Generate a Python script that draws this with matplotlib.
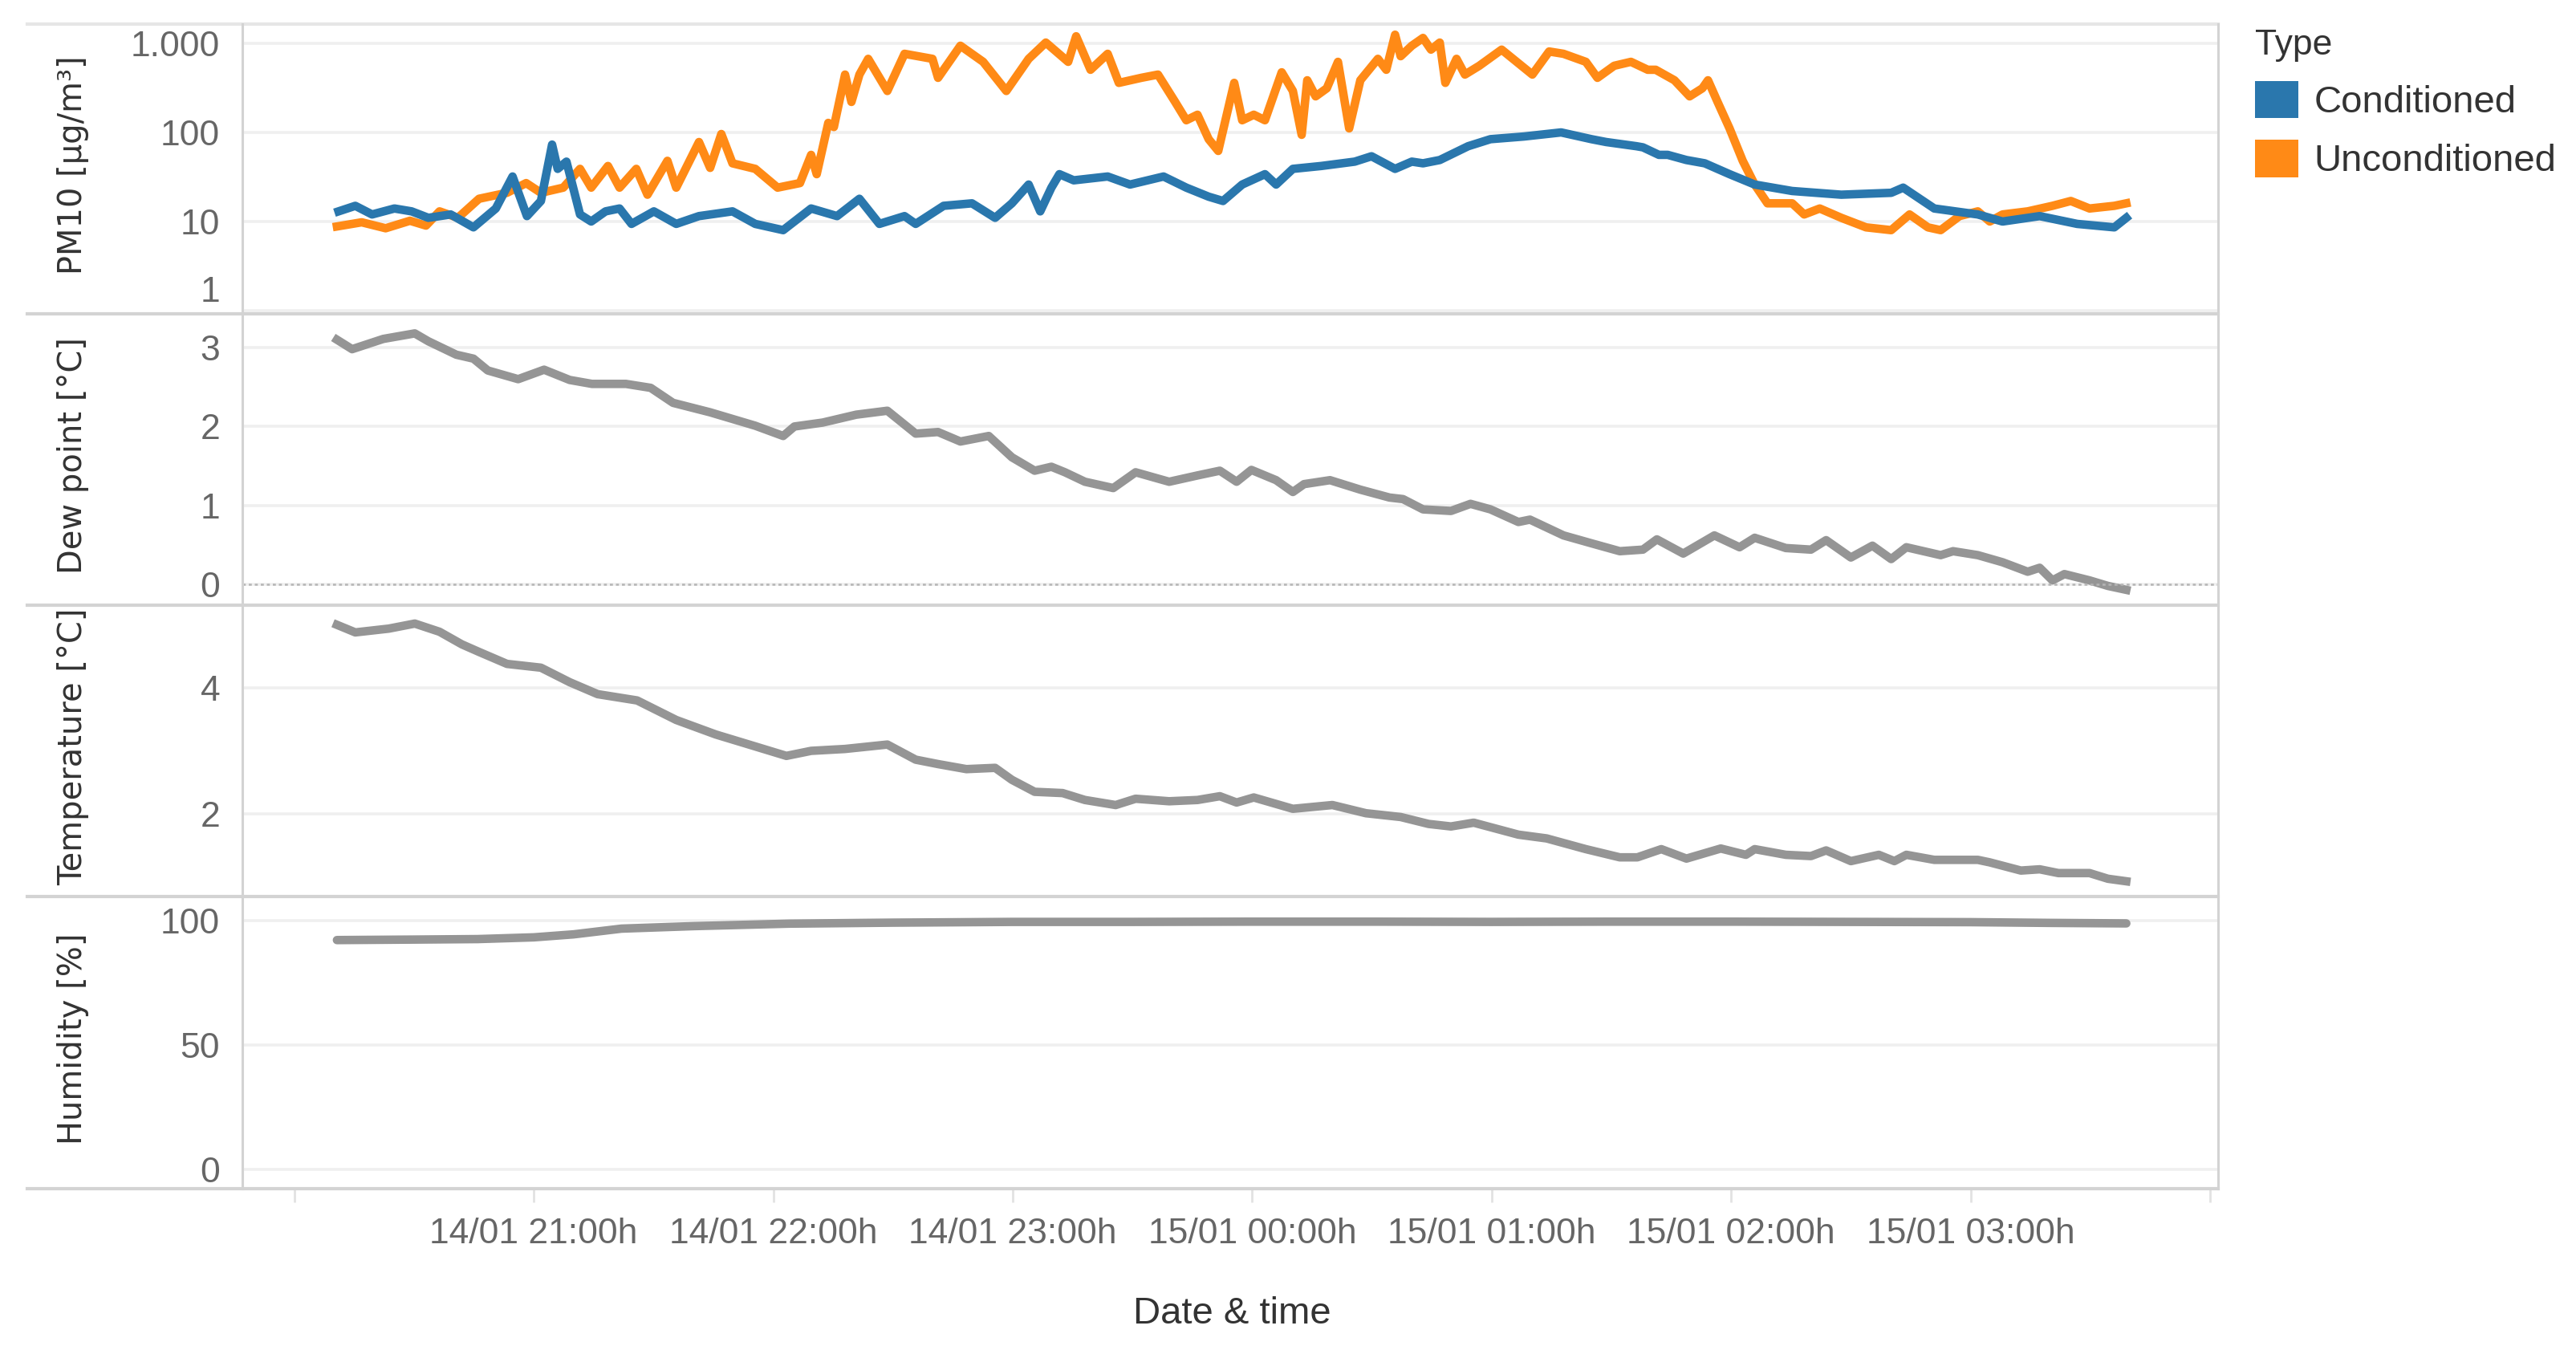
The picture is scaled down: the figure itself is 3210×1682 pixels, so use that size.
import matplotlib
matplotlib.use("Agg")
import matplotlib.pyplot as plt
from matplotlib.patches import Patch
from matplotlib.lines import Line2D
import pandas as pd

plt.rcParams["font.family"] = ["Liberation Sans", "DejaVu Sans"]

# ---------------- data (minutes after 14/01 20:00h) ----------------
unc_min = [10.7, 16.9, 22.9, 29.0, 33.0, 36.4, 41.0, 46.3, 53.3, 58.1, 61.8, 67.4, 71.6, 74.4, 78.6,
           81.5, 85.7, 88.5, 93.5, 95.7, 101.4, 104.2, 107.0, 109.8, 115.5, 121.1, 126.7, 129.5,
           130.9, 133.8, 135.2, 138.0, 139.6, 141.6, 143.8, 148.6, 152.9, 159.9, 161.3, 166.9,
           172.6, 178.4, 184.0, 188.3, 193.9, 195.9, 199.5, 203.8, 206.6, 212.2, 216.4, 220.7,
           223.5, 226.3, 229.1, 231.5, 235.5, 237.5, 240.4, 243.2, 247.4, 250.2, 252.4, 253.8,
           255.9, 258.7, 261.5, 264.3, 267.1, 271.5, 273.6, 275.8, 277.2, 280.0, 282.8, 284.8,
           287.0, 288.4, 291.2, 293.3, 296.9, 302.5, 310.2, 314.4, 318.0, 323.6, 326.5, 330.7,
           334.9, 339.1, 341.1, 345.8, 349.6, 352.8, 354.2, 356.6, 359.6, 362.9, 365.9, 369.1,
           375.3, 378.3, 382.2, 387.6, 393.8, 400.1, 404.7, 409.3, 412.5, 417.2, 421.8, 424.8,
           428.0, 434.3, 440.5, 445.1, 449.8, 456.0, 459.0]
unc_val = [8.8, 9.8, 8.4, 10.2, 9.0, 13, 11, 18, 21, 27, 21, 24, 39, 24, 42,
           24, 39, 20, 48, 24, 78, 40, 96, 45, 39, 24, 27, 56,
           34, 128, 115, 446, 220, 446, 670, 292, 763, 670, 410, 940,
           620, 292, 670, 1020, 620, 1200, 505, 763, 360, 410, 446, 220,
           137, 158, 84, 62, 360, 137, 158, 137, 473, 292, 94, 385,
           254, 313, 620, 111, 385, 670, 505, 1250, 717, 940, 1150, 850,
           1020, 360, 670, 446, 560, 850, 446, 810, 763, 620, 410, 560,
           620, 505, 505, 385, 254, 313, 385, 220, 111, 48, 26, 16,
           16, 12, 14, 11, 8.6, 8, 12, 8.6, 8, 11.5, 13, 10,
           12, 13, 15, 17, 14, 15, 16]

con_min = [11.1, 15.3, 19.5, 25.1, 29.4, 33.6, 39.2, 44.9, 50.5, 54.7, 58.3, 61.8, 64.6, 66.0,
           68.2, 71.6, 74.4, 78.0, 81.5, 84.5, 90.1, 95.7, 101.4, 109.8, 115.5, 122.5, 129.5,
           136.0, 141.6, 146.6, 152.9, 155.7, 162.7, 169.8, 175.6, 179.8, 184.0, 186.9, 189.7,
           191.7, 195.3, 203.8, 209.4, 217.8, 223.5, 229.1, 232.7, 237.5, 243.2, 246.0, 250.2,
           257.3, 265.7, 269.9, 275.8, 280.0, 282.8, 287.0, 294.1, 299.7, 308.1, 317.4, 325.0,
           328.7, 336.3, 337.9, 341.9, 344.1, 348.8, 353.4, 359.6, 365.9, 375.3, 387.6, 400.1,
           403.1, 410.9, 421.8, 428.0, 437.3, 446.7, 456.0, 459.0]
con_val = [13, 15, 12, 14, 13, 11, 12, 8.6, 14, 32, 11.5, 17, 73, 39,
           47, 12, 10, 13, 14, 9.4, 13, 9.4, 11.5, 13, 9.4, 8, 14,
           11.5, 18, 9.4, 11.5, 9.4, 15, 16, 11, 16, 26, 13, 24,
           34, 29, 32, 26, 32, 24, 19, 17, 26, 34, 26, 39,
           42, 47, 54, 39, 47, 45, 49, 70, 84, 90, 100, 84,
           78, 70, 68, 56, 56, 49, 45, 34, 26, 22, 20, 21,
           24, 14, 12, 10, 11.5, 9.4, 8.6, 11]

dew_min = [10.7, 14.5, 22.3, 30.2, 33.6, 40.6, 44.9, 48.5, 56.1, 62.6, 69.0, 74.6, 83.1, 89.3,
           94.9, 104.2, 115.5, 122.5, 125.3, 132.4, 140.8, 148.6, 155.7, 161.3, 166.9, 174.0,
           179.8, 185.5, 189.7, 193.1, 198.1, 205.2, 210.8, 219.2, 226.3, 231.9, 236.1, 239.8,
           246.0, 250.2, 253.0, 259.5, 267.1, 274.4, 277.8, 282.8, 289.8, 294.7, 299.7, 306.7,
           309.6, 318.0, 325.0, 332.1, 337.9, 341.4, 348.0, 355.8, 362.1, 365.9, 373.7, 380.0,
           383.8, 390.0, 395.4, 400.1, 403.9, 412.5, 415.6, 421.8, 428.0, 434.3, 437.3, 440.5,
           443.5, 449.8, 454.4, 459.0]
dew_val = [3.10, 2.98, 3.11, 3.18, 3.08, 2.91, 2.86, 2.71, 2.60, 2.72, 2.59, 2.54, 2.54, 2.49,
           2.30, 2.18, 2.01, 1.88, 2.00, 2.05, 2.15, 2.20, 1.91, 1.93, 1.81, 1.88,
           1.61, 1.44, 1.49, 1.42, 1.30, 1.22, 1.42, 1.30, 1.38, 1.44, 1.30, 1.45,
           1.32, 1.17, 1.27, 1.32, 1.20, 1.10, 1.08, 0.95, 0.93, 1.02, 0.95, 0.79,
           0.82, 0.62, 0.52, 0.42, 0.44, 0.57, 0.39, 0.62, 0.47, 0.59, 0.46, 0.44,
           0.56, 0.34, 0.49, 0.32, 0.47, 0.37, 0.42, 0.37, 0.28, 0.16, 0.21, 0.05,
           0.13, 0.05, -0.02, -0.07]

temp_min = [10.7, 15.3, 23.7, 30.2, 36.4, 42.0, 46.3, 53.3, 61.8, 69.0, 76.0, 85.9, 95.7, 105.6,
            115.5, 123.3, 129.5, 138.0, 148.6, 155.7, 161.3, 168.4, 175.6, 179.8, 185.5, 192.5,
            198.1, 205.8, 210.8, 219.2, 226.3, 231.9, 236.1, 240.4, 250.2, 260.1, 268.5, 277.2,
            284.2, 289.8, 295.5, 306.7, 313.8, 323.6, 332.1, 336.5, 342.5, 348.8, 357.4, 363.7,
            365.9, 373.7, 380.0, 383.8, 390.0, 397.0, 400.9, 403.9, 410.9, 421.8, 424.8, 432.6,
            437.3, 442.0, 449.8, 454.4, 459.0]
temp_val = [5.00, 4.88, 4.94, 5.02, 4.89, 4.69, 4.57, 4.38, 4.32, 4.09, 3.90, 3.80, 3.49, 3.26,
            3.07, 2.92, 3.00, 3.03, 3.10, 2.86, 2.79, 2.71, 2.73, 2.54, 2.35, 2.33,
            2.22, 2.14, 2.24, 2.20, 2.22, 2.28, 2.18, 2.26, 2.08, 2.14, 2.01, 1.95,
            1.84, 1.80, 1.86, 1.67, 1.61, 1.44, 1.31, 1.31, 1.44, 1.29, 1.45, 1.35,
            1.44, 1.35, 1.33, 1.42, 1.25, 1.35, 1.25, 1.35, 1.27, 1.27, 1.23, 1.10,
            1.12, 1.06, 1.06, 0.97, 0.93]

hum_min = [10.7, 30, 46, 60, 70, 82, 100, 124, 150, 180, 210, 240, 270, 300, 330, 360, 390, 420, 440, 459.0]
hum_val = [92.2, 92.4, 92.6, 93.3, 94.5, 96.8, 97.8, 98.8, 99.2, 99.5, 99.5, 99.6, 99.6, 99.5,
           99.6, 99.6, 99.5, 99.4, 99.1, 98.9]

types = ["Conditioned", "Unconditioned"]
type_colors = ["#2a77ad", "#ff8a16"]

start = pd.Timestamp("2019-01-14 20:00")
tick_times = pd.date_range("2019-01-14 20:00", "2019-01-15 04:00", freq="h")
tick_labels = ["", "14/01 21:00h", "14/01 22:00h", "14/01 23:00h", "15/01 00:00h",
               "15/01 01:00h", "15/01 02:00h", "15/01 03:00h", ""]

pm_ticks = [1, 10, 100, 1000]
pm_labels = ["1", "10", "100", "1.000"]


def to_time(minutes):
    return start + pd.to_timedelta(minutes, unit="min")


# ---------------- figure layout (pixels of 3210 x 1682) ----------------
W, H = 3210, 1682
fig = plt.figure(figsize=(W / 200, H / 200), dpi=200)
plot_left, plot_right = 302, 2764
edges = [30, 391, 754, 1117, 1481]

grey_line = "#959595"
tick_col = "#666666"
title_col = "#333333"
grid_col = "#efefef"
sep_col = "#d3d3d3"

axes = []
for i in range(4):
    top, bot = edges[i], edges[i + 1]
    ax = fig.add_axes([plot_left / W, 1 - bot / H, (plot_right - plot_left) / W, (bot - top) / H])
    for s in ax.spines.values():
        s.set_visible(False)
    ax.tick_params(axis="y", length=0, pad=10, labelsize=16, labelcolor=tick_col)
    ax.grid(axis="y", color=grid_col, lw=1.3)
    ax.set_axisbelow(True)
    axes.append(ax)

x0 = to_time(-13.0)
x1 = to_time(482.0)

# PM10 panel
ax = axes[0]
ax.plot(to_time(unc_min), unc_val, color=type_colors[1], lw=3.8, solid_joinstyle="round")
ax.plot(to_time(con_min), con_val, color=type_colors[0], lw=3.8, solid_joinstyle="round")
ax.set_yscale("log")
ax.set_ylim(0.92, 1645)
ax.set_yticks(pm_ticks)
ax.set_yticklabels([""] + pm_labels[1:])
ax.yaxis.set_minor_locator(matplotlib.ticker.NullLocator())
# Tableau lifts the bottom label to keep it inside the pane
ax.annotate(pm_labels[0], xy=(0, pm_ticks[0]), xycoords=("axes fraction", "data"),
            xytext=(-10, 8), textcoords="offset points", ha="right", va="center",
            fontsize=16, color=tick_col)

# Dew point panel
ax = axes[1]
ax.plot(to_time(dew_min), dew_val, color=grey_line, lw=3.8, solid_joinstyle="round")
ax.set_ylim(-0.264, 3.428)
ax.set_yticks([0, 1, 2, 3])
ax.axhline(0, color="#b5b5b5", lw=0.9, ls=(0, (1.5, 1.5)))

# Temperature panel
ax = axes[2]
ax.plot(to_time(temp_min), temp_val, color=grey_line, lw=3.8, solid_joinstyle="round")
ax.set_ylim(0.688, 5.312)
ax.set_yticks([2, 4])

# Humidity panel
ax = axes[3]
ax.plot(to_time(hum_min), hum_val, color=grey_line, lw=3.8, solid_capstyle="round")
ax.set_ylim(-7.7, 109.7)
ax.set_yticks([0, 50, 100])

for i, ax in enumerate(axes):
    ax.set_xlim(x0, x1)
    ax.set_xticks(tick_times)
    if i < 3:
        ax.tick_params(axis="x", length=0, labelbottom=False)
    else:
        ax.set_xticklabels(tick_labels)
        ax.tick_params(axis="x", length=6, width=1, color="#e2e2e2", pad=7,
                       labelsize=16, labelcolor=tick_col)

# panel frame lines
for y in edges:
    col = "#e6e6e6" if y == edges[0] else sep_col
    fig.add_artist(Line2D([34 / W, plot_right / W], [1 - y / H, 1 - y / H], color=col, lw=1.5))
for x in (plot_left, plot_right):
    fig.add_artist(Line2D([x / W, x / W], [1 - edges[0] / H, 1 - edges[-1] / H], color=sep_col, lw=1.1))

# axis titles
y_titles = ["PM10 [µg/m³]", "Dew point [°C]", "Temperature [°C]", "Humidity [%]"]
for i, t in enumerate(y_titles):
    yc = (edges[i] + edges[i + 1]) / 2 - 5
    fig.text(91 / W, 1 - yc / H, t, rotation=90, ha="center", va="center",
             fontsize=14.4, color=title_col, family="DejaVu Sans")

fig.text(1535 / W, 1 - 1637 / H, "Date & time", ha="center", va="center",
         fontsize=17, color=title_col)

# legend
handles = [Patch(facecolor=c, edgecolor="none") for c in type_colors]
leg = fig.legend(handles, types, title="Type", loc="upper left",
                 bbox_to_anchor=(2810 / W, 1 - 36 / H), frameon=False, alignment="left",
                 fontsize=17, title_fontsize=16, handlelength=1.15, handleheight=1.15,
                 handletextpad=0.4, labelspacing=0.5, borderpad=0, borderaxespad=0)
for t in leg.get_texts():
    t.set_color(title_col)
leg.get_title().set_color(title_col)

fig.savefig("out.png", dpi=200)
